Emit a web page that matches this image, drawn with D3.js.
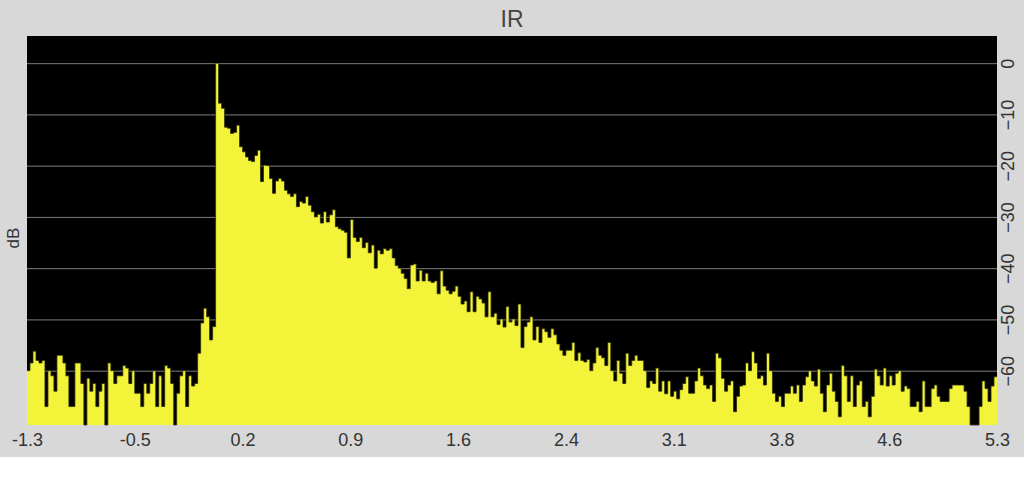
<!DOCTYPE html>
<html>
<head>
<meta charset="utf-8">
<script src="https://cdn.jsdelivr.net/npm/d3@7"></script>
<style>
  body { margin: 0; background: #fff; }
  svg { display: block; }
  text { font-family: "Liberation Sans", Arial, sans-serif; fill: #333; }
</style>
</head>
<body>
<svg id="chart" width="1024" height="500"></svg>
<script>
// level per sample in dB (floor = -70.6)
const noiseBefore = [
    -60, -58.5, -56.2, -58, -58.5, -58, -67, -60, -61, -64,
    -57, -57, -58.5, -61, -67, -67, -58.5, -58.5, -62.5, -70.6,
    -61.5, -64, -62.5, -67, -64, -62.5, -70.6, -58.5, -60, -62.5,
    -61, -61, -59, -59.5, -62.5, -60, -64.4, -64.4, -67, -62.5,
    -64.4, -62.5, -60, -67, -61, -67, -59, -59.5, -62.5, -70.6,
    -64.4, -61, -60, -67, -61, -63, -62.5
];
const onset = [-56.6, -50.7, -47.8, -49.5, -54, -51.4, 0];
const decay = [
    -7.8, -8.8, -12.5, -12.7, -13.7, -13.5, -12.1, -16.3, -17.3, -18.3,
    -19, -19.2, -18, -17, -23.1, -19.9, -20, -22.5, -25.4, -23,
    -22.5, -23, -24.8, -25.5, -26, -25.5, -28, -27, -27.3, -26,
    -27.7, -29, -30, -29.5, -31.2, -29, -31, -29.6, -28.6, -31.9,
    -32.3, -32.6, -33, -38, -30.5, -34, -34.8, -34, -36, -35,
    -37, -35.5, -40, -36.5, -37.2, -36.2, -36.5, -36.2, -38, -39.5,
    -40, -41, -42, -44, -39.4, -39.2, -42.5, -40.4, -42.5, -41,
    -42.5, -42.8, -42.5, -45, -40.5, -43.5, -44.3, -45, -44.5, -43.5,
    -45.5, -47, -46.4, -48.5, -44.6, -48.5, -45.5, -46, -46.8, -49.5,
    -44.6, -49.5, -48.8, -51, -49.9, -51.5, -47.5, -50.5, -49.9, -51.2,
    -47, -55.5, -51.4, -50.5, -49.5, -54, -51.4, -54.5, -51.8, -52.4,
    -53.5, -51.8, -53, -54.8, -56, -57, -56, -56, -54.5, -58,
    -56.5, -58, -58.3, -57.8, -60, -58.5, -55.5, -57, -57.5, -59,
    -54.5, -60, -62, -58, -60.5, -62.5, -56.6, -59, -58, -57,
    -58, -58, -60, -63.3, -62, -62.5, -59.5, -64, -62, -64.5,
    -62, -65, -64, -65.5, -63.7
];
const noiseAfter = [
    -62.5, -61.2, -64.4, -64.4, -62, -59.5, -61, -62.8, -63.5, -62.8,
    -66, -56.6, -57.5, -61.5, -64, -62.8, -62, -68, -65, -63,
    -62.8, -58.5, -60, -56.3, -58.5, -61.5, -61, -62.8, -56.6, -60,
    -64.4, -66, -65, -67, -64.4, -64.4, -63, -64.4, -62.8, -66,
    -62.8, -61.2, -60, -62, -63, -59.7, -64.4, -68, -62.8, -60.5,
    -64, -66, -69, -59, -61, -66, -61, -67, -62.8, -62,
    -67, -66, -69, -65, -59.7, -61, -62.8, -59.5, -63, -61,
    -62.8, -60.5, -60, -64, -63, -63.5, -67, -67, -66, -68,
    -62, -67, -67, -63.5, -62.8, -65, -66, -66, -66, -63.5,
    -62.8, -62.8, -62.8, -62.8, -64, -67, -70.6, -70.6, -70.6, -67,
    -62, -63.5, -66, -63, -61.2
];

const timeDomain = [-1.3, 5.3];
const dbDomain = [-70.6, 5.3];
const dbTicks = [0, -10, -20, -30, -40, -50, -60];
const timeTicks = [-1.3, -0.567, 0.167, 0.9, 1.633, 2.367, 3.1, 3.833, 4.567, 5.3];
const timeTickLabels = ["-1.3", "-0.5", "0.2", "0.9", "1.6", "2.4", "3.1", "3.8", "4.6", "5.3"];

const levels = noiseBefore.concat(onset, decay, noiseAfter);

const svg = d3.select("#chart");
const plot = { left: 27, top: 36, right: 997, bottom: 425 };

const x = d3.scaleLinear().domain(timeDomain).range([plot.left, plot.right]);
const y = d3.scaleLinear().domain(dbDomain).range([plot.bottom, plot.top]);

// sample times: evenly spaced steps across the time range
const step = (timeDomain[1] - timeDomain[0]) / levels.length;
const points = levels.map((v, i) => ({ t: timeDomain[0] + i * step, v }));
points.push({ t: timeDomain[1], v: levels[levels.length - 1] });

// backgrounds
svg.append("rect").attr("width", 1024).attr("height", 457).attr("fill", "#d7d8d7");
svg.append("rect")
    .attr("x", plot.left).attr("y", plot.top)
    .attr("width", plot.right - plot.left).attr("height", plot.bottom - plot.top)
    .attr("fill", "#000");

// grid lines
svg.append("g")
    .selectAll("line")
    .data(dbTicks)
    .enter()
    .append("line")
    .attr("x1", plot.left).attr("x2", plot.right)
    .attr("y1", d => y(d) + 0.5).attr("y2", d => y(d) + 0.5)
    .attr("stroke", "#7d7d7d")
    .attr("stroke-width", 1);

// filled step trace
const area = d3.area()
    .curve(d3.curveStepAfter)
    .x(d => x(d.t))
    .y0(y(dbDomain[0]))
    .y1(d => y(d.v));

const line = d3.line()
    .curve(d3.curveStepAfter)
    .x(d => x(d.t))
    .y(d => y(d.v));

svg.append("path")
    .datum(points)
    .attr("d", area)
    .attr("fill", "#f3f33a");

svg.append("path")
    .datum(points)
    .attr("d", line)
    .attr("fill", "none")
    .attr("stroke", "#2e2e08")
    .attr("stroke-width", 0.8);

// bottom axis
const xAxis = svg.append("g")
    .attr("transform", `translate(0,${plot.bottom})`)
    .call(d3.axisBottom(x)
        .tickValues(timeTicks)
        .tickFormat((d, i) => timeTickLabels[i])
        .tickSize(0));
xAxis.select(".domain").remove();
xAxis.selectAll("text")
    .attr("y", 21)
    .attr("dy", 0)
    .style("font-size", "18px")
    .style("fill", "#333");

// right axis, labels turned on their side
const yAxis = svg.append("g")
    .attr("transform", `translate(${plot.right},0)`)
    .call(d3.axisRight(y).tickValues(dbTicks).tickSize(0));
yAxis.select(".domain").remove();
yAxis.selectAll("text")
    .attr("x", 0)
    .attr("dy", 0)
    .attr("text-anchor", "middle")
    .attr("transform", "translate(17,0) rotate(-90)")
    .style("font-size", "18px")
    .style("fill", "#333");

// title and unit label
svg.append("text")
    .attr("x", 512).attr("y", 27)
    .attr("text-anchor", "middle")
    .style("font-size", "23px")
    .style("fill", "#444")
    .text("IR");

svg.append("text")
    .attr("transform", "translate(19,238) rotate(-90)")
    .attr("text-anchor", "middle")
    .style("font-size", "17px")
    .text("dB");
</script>
</body>
</html>
